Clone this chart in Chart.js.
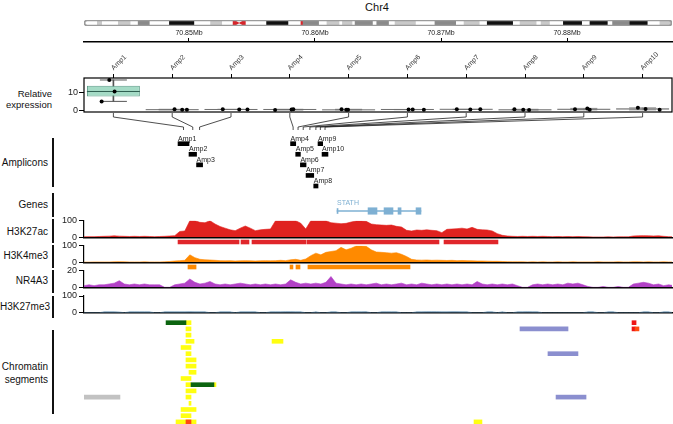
<!DOCTYPE html>
<html>
<head>
<meta charset="utf-8">
<script src="https://cdn.jsdelivr.net/npm/chart.js@4.4.1/dist/chart.umd.min.js"></script>
<style>
body { margin: 0; background: #fff; }
#wrap { position: relative; width: 673px; height: 424px; overflow: hidden; font-family: 'Liberation Sans', Arial, sans-serif; color: #111; }
#wrap canvas { position: absolute; left: 0; }
.lab { position: absolute; left: 0; width: 48px; text-align: right; font-size: 10px; line-height: 12px; white-space: nowrap; }
.bar { position: absolute; left: 52px; width: 2px; background: #111; }
</style>
</head>
<body>
<div id="wrap">
  <div style="position:absolute;left:327px;width:100px;top:1px;text-align:center;font-size:11px;line-height:13px">Chr4</div>
  <div class="lab" style="top:87.5px;width:52px;font-size:9.5px;line-height:11.7px">Relative<br>expression</div>
  <div class="lab" style="top:156.7px">Amplicons</div>
  <div class="lab" style="top:199px">Genes</div>
  <div class="lab" style="top:225.7px">H3K27ac</div>
  <div class="lab" style="top:249.7px">H3K4me3</div>
  <div class="lab" style="top:275px">NR4A3</div>
  <div class="lab" style="top:300.7px">H3K27me3</div>
  <div class="lab" style="top:360px;line-height:13.3px">Chromatin<br>segments</div>
  <div class="bar" style="top:138px;height:49px"></div>
  <div class="bar" style="top:193px;height:24px"></div>
  <div class="bar" style="top:219px;height:24px"></div>
  <div class="bar" style="top:245px;height:23px"></div>
  <div class="bar" style="top:270px;height:23px"></div>
  <div class="bar" style="top:296px;height:22px"></div>
  <div class="bar" style="top:330px;height:84px"></div>
</div>
<script>
// genomic window in Mb, track bins
const G_MIN = 70.841667, G_MAX = 70.888333
const BIN0 = 70.841667, BIN = 0.0004
const mbTicks = [70.85, 70.86, 70.87, 70.88]

// chr4 ideogram, chromosome Mb
const chrLen = 190
const chrLight = [[4.3,5.7],[11.1,14.9],[40.9,44.5],[78.5,82.4],[83.5,86.6],[100.5,107.1],[122.8,127.7],[140.9,146.1],[147.7,150.4],[186.1,190]]
const chrMid = [[17.5,21.1],[70.6,75.8],[87.6,93.2],[94.6,98.4],[113.4,120.1],[170.8,176.4]]
const chrDark = [[27.6,35.5],[59.0,65.9],[130.3,138.5],[154.9,160.8],[163.5,169.1],[176.4,182.0]]
const centromere = [48.8, 51.5]
const locusMark = [70.1, 70.6]

// relative expression per amplicon (3 replicates)
const ampNames = ['Amp1','Amp2','Amp3','Amp4','Amp5','Amp6','Amp7','Amp8','Amp9','Amp10']
const relExpr = [[16.7,10.3,4.8],[0.4,0.2,0.1],[0.4,0.3,0.3],[0.0,0.3,0.4],[0.4,0.1,0.1],[0.3,0.3,0.2],[0.4,0.3,0.4],[0.4,0.1,0.0],[0.4,0.9,0.1],[1.2,0.6,0.1]]
const dotOffset = [[-0.07,0.02,-0.2],[0.04,0.17,0.25],[-0.14,0.14,0.28],[-0.25,0.03,0.06],[-0.12,-0.04,-0.01],[0.02,0.09,0.28],[-0.16,0.07,0.24],[-0.18,-0.03,0.07],[-0.15,0.06,0.1],[-0.08,0.05,0.29]]

// amplicon locations
const ampSpan = [[70.84913,70.85000],[70.85000,70.85060],[70.85060,70.85108],[70.85806,70.85847],[70.85847,70.85884],[70.85884,70.85929],[70.85929,70.85990],[70.85990,70.86024],[70.86024,70.86061],[70.86056,70.86103]]
const ampRow = [0,1,2,0,1,2,3,4,0,1]

// gene
const geneName = 'STATH'
const geneSpan = [70.86175, 70.86841]
const geneExons = [[70.86421,70.86492],[70.86548,70.86619],[70.86659,70.86683],[70.86802,70.86841]]

// ChIP tracks, one value per bin
const h3k27ac = [3,4,4,5,6,7,9,7,6,5, 6,5,6,5,4,5,6,8,10,35, 38,100,100,90,88,100,80,65,55,45, 40,55,68,55,40,45,48,50,100,100,
  100,100,100,85,50,100,100,100,100,88, 85,82,84,92,98,98,96,80,76,74, 72,74,66,62,42,38,44,42,45,42, 40,28,48,50,52,55,50,60,48,45,
  44,38,22,12,8,6,5,6,5,6, 5,6,5,4,5,4,5,4,5,4, 3,2,2,2,3,2,3,3,3,8, 9,10,9,8,9,6,4,3]
const h3k4me3 = [1,1,2,2,2,2,3,4,3,2, 2,2,3,2,2,2,3,5,8,10, 12,45,28,18,15,14,12,10,9,10, 8,9,10,9,8,9,10,9,10,12,
  10,15,18,12,20,40,55,45,60,65, 70,90,75,85,98,98,96,75,62,60, 58,55,58,48,35,18,14,13,14,12, 13,12,11,12,10,11,10,9,8,8,
  7,6,6,5,4,3,3,3,2,3, 2,3,2,2,3,2,2,3,2,2, 2,2,3,2,2,2,3,2,2,3, 3,2,3,2,2,3,2,2]
const nr4a3 = [2,3,2,3,3,4,5,8,4,3, 4,3,4,3,3,3,0,0,3,4, 5,10,6,4,5,7,4,3,4,3, 4,5,4,3,4,3,4,3,4,3,
  4,9,6,4,5,4,5,4,6,13, 5,4,3,4,3,4,3,4,5,3, 4,3,4,5,3,4,3,5,4,3, 4,3,4,3,4,3,4,3,7,4,
  3,4,3,4,3,4,2,0,0,3, 4,3,4,3,4,3,5,4,5,3, 1,0,0,1,0,0,1,0,0,4, 5,6,5,3,4,2,3,2]
const h3k27me3 = [0,0,0,0,5,5,5,4,0,5, 5,5,5,5,0,0,5,5,5,5, 5,6,5,5,5,0,0,5,5,5, 0,5,5,5,5,0,0,5,5,5,
  6,6,5,5,0,0,5,0,0,5, 5,0,0,5,5,5,6,0,0,5, 5,5,5,0,0,0,5,5,6,6, 6,5,5,6,6,5,5,0,0,0,
  5,5,0,5,0,0,5,5,6,5, 5,0,0,0,0,0,0,0,0,0, 5,5,0,0,5,5,0,0,0,0, 0,5,5,0,0,5,5,0]

// called regions under H3K27ac / H3K4me3
const acRegions = [[70.84913,70.85397],[70.85413,70.85476],[70.85500,70.85929],[70.85937,70.86984],[70.87024,70.87452]]
const me3Regions = [[70.84992,70.85056],[70.85802,70.85825],[70.85849,70.85881],[70.85944,70.86754]]

// chromatin segments: [row, start, end]
const segGreen = [[0,70.84818,70.84976],[10,70.85016,70.85198]]
const segYellow = [[0,70.84976,70.85016],[1,70.84976,70.85016],[2,70.84976,70.85016],[3,70.84976,70.85040],[3,70.85659,70.85746],
  [4,70.84937,70.85016],[5,70.84976,70.85016],[6,70.84976,70.85056],[7,70.84976,70.85056],[8,70.85000,70.85056],[9,70.84937,70.85016],
  [10,70.84976,70.85016],[10,70.85198,70.85214],[11,70.84976,70.85056],[12,70.84976,70.85016],[13,70.85000,70.85016],
  [14,70.84937,70.85056],[15,70.84937,70.85016],[16,70.84897,70.85056],[16,70.87262,70.87325]]
const segGrey = [[12,70.84159,70.84452]]
const segSlate = [[1,70.87627,70.88008],[5,70.87849,70.88087],[12,70.87913,70.88151]]
const segRed = [[0,70.88516,70.88548],[1,70.88516,70.88540]]
const segOrange = [[1,70.88540,70.88571],[16,70.84976,70.85016]]

Chart.defaults.font.family = "'Liberation Sans', Arial, sans-serif"
Chart.defaults.color = '#222'
Chart.defaults.animation = false
Chart.defaults.responsive = false
Chart.defaults.events = []
Chart.defaults.layout.autoPadding = false
Chart.defaults.plugins.legend.display = false
Chart.defaults.plugins.tooltip.enabled = false

const wrap = document.getElementById('wrap')
function canvasAt(top, height) {
  let c = document.createElement('canvas')
  c.width = 673
  c.height = height
  c.style.top = top + 'px'
  wrap.appendChild(c)
  return c
}
const genomeX = () => ({ type: 'linear', min: G_MIN, max: G_MAX, offset: false, display: false })
const hidden = (min, max, rev) => ({ type: 'linear', min: min, max: max, reverse: !!rev, offset: false, display: false })
const spans = (list) => list.map(s => ({ x: s, y: 0 }))

// ideogram
const band = (list, color) => ({
  data: spans(list), backgroundColor: color, barThickness: 6, grouped: false, borderSkipped: false,
  borderRadius: ctx => (ctx.raw && ctx.raw.x[1] >= chrLen ? { topLeft: 0, bottomLeft: 0, topRight: 3, bottomRight: 3 } : 0)
})
new Chart(canvasAt(14, 18), {
  type: 'bar',
  data: { datasets: [
    { data: [{ x: [0, chrLen], y: 0 }], backgroundColor: 'rgba(0,0,0,0)', borderColor: '#9b9b9b', borderWidth: 1, borderRadius: 3, borderSkipped: false, barThickness: 6, grouped: false },
    { type: 'scatter', indexAxis: 'x', data: centromere.map(v => ({ x: v, y: 0 })), pointStyle: 'triangle', rotation: [90, 270], pointRadius: 4.6, backgroundColor: '#d7262b', borderWidth: 0 },
    band([locusMark], '#d7262b'),
    band(chrDark, '#111'),
    band(chrMid, '#8a8a8a'),
    band(chrLight, '#c9c9c9')
  ] },
  options: {
    indexAxis: 'y',
    layout: { padding: { left: 84, right: 1, top: 6, bottom: 6 } },
    scales: { x: hidden(0, chrLen), y: hidden(-1, 1) }
  }
})

// Mb axis
new Chart(canvasAt(26, 20), {
  type: 'scatter',
  data: { datasets: [] },
  options: {
    layout: { padding: { left: 84, right: 1, bottom: 2 } },
    scales: {
      x: {
        type: 'linear', position: 'top', min: G_MIN, max: G_MAX,
        afterBuildTicks: s => { s.ticks = mbTicks.map(v => ({ value: v })) },
        afterFit: s => { s.height = 16 },
        ticks: { font: { size: 7 }, color: '#222', padding: 1, callback: v => v.toFixed(2) + 'Mb' },
        grid: { drawOnChartArea: false, tickLength: 4, color: '#000' },
        border: { color: '#000', width: 1.5 }
      },
      y: { display: false }
    }
  }
})

// box plots
const frame = {
  id: 'frame',
  afterDraw(chart) {
    let a = chart.chartArea, ctx = chart.ctx
    ctx.save()
    ctx.strokeStyle = '#000'
    ctx.lineWidth = 1.2
    ctx.strokeRect(a.left, a.top, a.right - a.left, a.bottom - a.top)
    ctx.restore()
  }
}
const sorted = relExpr.map(r => r.slice().sort((a, b) => a - b))
const boxQ = sorted.map(s => [(s[0] + s[1]) / 2, (s[1] + s[2]) / 2])
const boxWhisk = sorted.map(s => [s[0], s[2]])
const boxFill = ampNames.map((n, i) => i === 0 ? '#a5dbc6' : '#c6c6c6')
const boxEdge = ampNames.map((n, i) => i === 0 ? '#5e9c88' : '#a3a3a3')
const whiskCol = ampNames.map((n, i) => i === 0 ? '#555' : '#8c8c8c')
let dots = []
relExpr.forEach((r, i) => r.forEach((v, j) => dots.push({ x: i + dotOffset[i][j], y: v })))
let caps = [], capCol = []
boxWhisk.forEach((w, i) => { caps.push({ x: i, y: w[0] }, { x: i, y: w[1] }); capCol.push(whiskCol[i], whiskCol[i]) })

new Chart(canvasAt(44, 76), {
  type: 'bar',
  data: {
    labels: ampNames,
    datasets: [
      { type: 'scatter', xAxisID: 'x2', data: dots, pointRadius: 2, backgroundColor: '#000', borderColor: '#000', borderWidth: 0, clip: false },
      { type: 'scatter', xAxisID: 'x2', data: sorted.map((s, i) => ({ x: i, y: s[1] })), pointStyle: 'line', pointRadius: 26.5, borderColor: ampNames.map((n, i) => i === 0 ? '#2f5f50' : '#6e6e6e'), borderWidth: 1 },
      { data: boxQ, backgroundColor: boxFill, borderColor: boxEdge, borderWidth: 1, borderSkipped: false, barPercentage: 0.9, categoryPercentage: 1, grouped: false },
      { type: 'scatter', xAxisID: 'x2', data: caps, pointStyle: 'line', pointRadius: 13.5, borderColor: capCol, borderWidth: 1 },
      { data: boxWhisk, backgroundColor: whiskCol, barThickness: 1, grouped: false }
    ]
  },
  options: {
    layout: { padding: { left: 0, right: 1, top: 0, bottom: 8 } },
    scales: {
      x: {
        position: 'top', offset: true,
        afterFit: s => { s.height = 34 },
        ticks: { font: { size: 7 }, color: '#333', minRotation: 45, maxRotation: 45, autoSkip: false, padding: 2, labelOffset: 5 },
        grid: { offset: false, drawOnChartArea: false, tickLength: 4, color: '#000' },
        border: { display: false }
      },
      x2: hidden(-0.5, 9.5),
      y: {
        min: -1.1, max: 17.8,
        afterBuildTicks: s => { s.ticks = [{ value: 0 }, { value: 10 }] },
        afterFit: s => { s.width = 84 },
        ticks: { font: { size: 9 }, color: '#222', padding: 1 },
        grid: { drawOnChartArea: false, tickLength: 5, color: '#000' },
        border: { display: false }
      }
    }
  },
  plugins: [frame]
})

// fan lines from box plots to amplicons
const fan = {
  id: 'fan',
  afterDraw(chart) {
    let xc = chart.scales.xc, xg = chart.scales.xg, a = chart.chartArea, ctx = chart.ctx
    ctx.save()
    ctx.strokeStyle = '#222'
    ctx.lineWidth = 0.8
    ctx.beginPath()
    ampSpan.forEach((s, i) => {
      let x1 = xc.getPixelForValue(i), x2 = xg.getPixelForValue((s[0] + s[1]) / 2)
      ctx.moveTo(x1, a.top + 1)
      ctx.lineTo(x1, a.top + 5)
      ctx.lineTo(x2, a.bottom - 4)
      ctx.lineTo(x2, a.bottom - 1)
    })
    ctx.stroke()
    ctx.restore()
  }
}
new Chart(canvasAt(112, 19), {
  type: 'scatter',
  data: { datasets: [] },
  options: {
    layout: { padding: { left: 84, right: 1 } },
    scales: { xc: hidden(-0.5, 9.5), xg: genomeX(), y: hidden(0, 1) }
  },
  plugins: [fan]
})

// amplicons
const ampText = {
  id: 'ampText',
  afterDatasetsDraw(chart) {
    let x = chart.scales.x, y = chart.scales.y, ctx = chart.ctx
    ctx.save()
    ctx.font = "7px 'Liberation Sans', Arial"
    ctx.fillStyle = '#222'
    ampSpan.forEach((s, i) => ctx.fillText(ampNames[i], x.getPixelForValue(s[0]), y.getPixelForValue(ampRow[i]) - 3))
    ctx.restore()
  }
}
new Chart(canvasAt(130, 62), {
  type: 'bar',
  data: { datasets: [{ data: ampSpan.map((s, i) => ({ x: s, y: ampRow[i] })), backgroundColor: '#000', barThickness: 4, grouped: false }] },
  options: {
    indexAxis: 'y',
    layout: { padding: { left: 84, right: 1 } },
    scales: { x: genomeX(), y: hidden(-1.2955, 4.567, true) }
  },
  plugins: [ampText]
})

// gene model
const geneText = {
  id: 'geneText',
  afterDatasetsDraw(chart) {
    let ctx = chart.ctx
    ctx.save()
    ctx.font = "7px 'Liberation Sans', Arial"
    ctx.fillStyle = '#7fb0d2'
    ctx.fillText(geneName, chart.scales.x.getPixelForValue(geneSpan[0]), chart.scales.y.getPixelForValue(0) - 6.5)
    ctx.restore()
  }
}
new Chart(canvasAt(199, 24), {
  type: 'bar',
  data: { datasets: [
    { data: spans(geneExons), backgroundColor: '#7eb0d3', barThickness: 6.5, grouped: false },
    { data: spans([[geneSpan[0], geneSpan[0] + 0.00008]]), backgroundColor: '#7eb0d3', barThickness: 5, grouped: false },
    { data: spans([geneSpan]), backgroundColor: '#7eb0d3', barThickness: 1, grouped: false }
  ] },
  options: {
    indexAxis: 'y',
    layout: { padding: { left: 84, right: 1 } },
    scales: { x: genomeX(), y: hidden(-1, 1) }
  },
  plugins: [geneText]
})

// signal tracks
function track(values, color, yMax, areaTop, areaBottom) {
  let top = Math.floor(areaTop) - 8
  let height = Math.ceil(areaBottom) + 8 - top
  new Chart(canvasAt(top, height), {
    type: 'line',
    data: { datasets: [{
      data: values.map((v, i) => ({ x: BIN0 + i * BIN, y: v })),
      fill: 'origin', backgroundColor: color, borderColor: color, borderWidth: 0.6, pointRadius: 0, tension: 0
    }] },
    options: {
      layout: { padding: { left: 0, right: 1, top: areaTop - top, bottom: top + height - areaBottom } },
      scales: {
        x: {
          type: 'linear', min: G_MIN, max: G_MAX,
          ticks: { display: false }, grid: { display: false },
          border: { display: true, color: '#000', width: 1.5 },
          afterFit: s => { s.height = 0 }
        },
        y: {
          min: 0, max: yMax,
          afterBuildTicks: s => { s.ticks = [{ value: 0 }, { value: yMax }] },
          afterFit: s => { s.width = 84 },
          ticks: { font: { size: 9 }, color: '#222', padding: 2 },
          grid: { drawOnChartArea: false, tickLength: 5, color: '#000' },
          border: { color: '#000', width: 1.2 }
        }
      }
    }
  })
}
track(h3k27ac, '#e0221f', 100, 220.7, 237.3)
track(h3k4me3, '#ff8a00', 100, 245.7, 262.3)
track(nr4a3, '#b241c6', 20, 270.7, 287.3)
track(h3k27me3, '#5a88aa', 100, 296, 312.7)

// called regions
function regions(list, color, top) {
  new Chart(canvasAt(top, 10), {
    type: 'bar',
    data: { datasets: [{ data: spans(list), backgroundColor: color, barThickness: 4, grouped: false }] },
    options: {
      indexAxis: 'y',
      layout: { padding: { left: 84, right: 1 } },
      scales: { x: genomeX(), y: hidden(-1, 1) }
    }
  })
}
regions(acRegions, '#e0262b', 237)
regions(me3Regions, '#ff8a00', 262)

// chromatin segments
const segSet = (list, color) => ({
  data: list.map(s => ({ x: [s[1], s[2]], y: s[0] })), backgroundColor: color, barThickness: 4, grouped: false
})
new Chart(canvasAt(318, 106), {
  type: 'bar',
  data: { datasets: [
    segSet(segOrange, '#ff4a10'),
    segSet(segRed, '#ee1515'),
    segSet(segGreen, '#0b640f'),
    segSet(segYellow, '#ffff10'),
    segSet(segGrey, '#c2c2c2'),
    segSet(segSlate, '#8b8fcf')
  ] },
  options: {
    indexAxis: 'y',
    layout: { padding: { left: 84, right: 1 } },
    scales: { x: genomeX(), y: hidden(-0.758, 16.339, true) }
  }
})
</script>
</body>
</html>
